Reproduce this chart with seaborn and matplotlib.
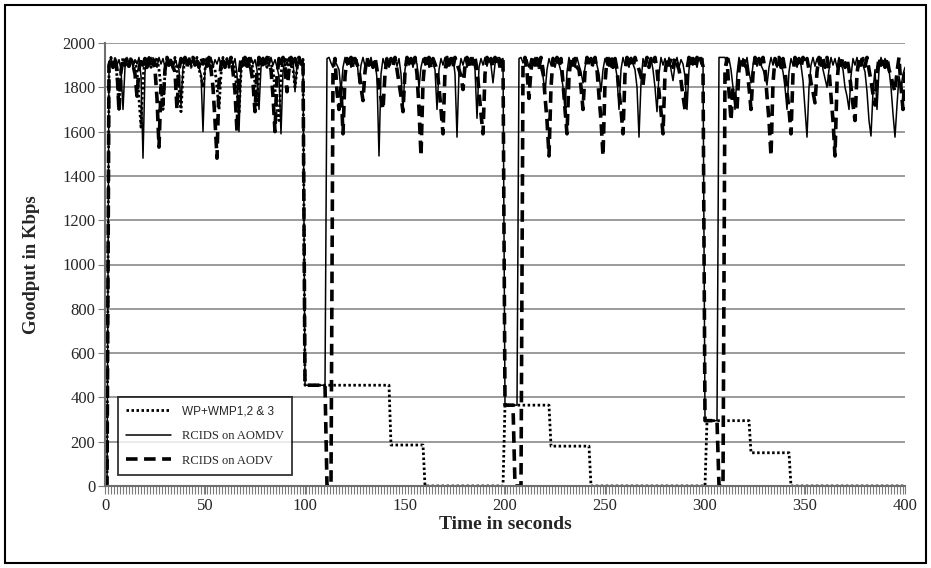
import matplotlib
matplotlib.use("Agg")
import matplotlib.pyplot as plt
import seaborn as sns
import pandas as pd
from matplotlib.patches import Rectangle
from matplotlib.ticker import MultipleLocator

# Time axis: one sample per second
seconds = list(range(0, 401))

# Goodput (Kbps) of RCIDS on AOMDV
aomdv = [
    0, 0, 1910, 1935, 1895, 1930, 1900, 1925, 1880, 1700,
    1890, 1935, 1900, 1930, 1890, 1925, 1905, 1935, 1850, 1480,
    1870, 1930, 1895, 1935, 1900, 1925, 1890, 1935, 1905, 1930,
    1890, 1935, 1900, 1925, 1885, 1930, 1900, 1880, 1720, 1890,
    1935, 1900, 1930, 1895, 1935, 1905, 1925, 1890, 1860, 1600,
    1880, 1930, 1900, 1935, 1890, 1925, 1905, 1935, 1895, 1930,
    1900, 1925, 1890, 1935, 1900, 1930, 1860, 1600, 1880, 1935,
    1900, 1930, 1890, 1935, 1905, 1925, 1880, 1700, 1890, 1935,
    1900, 1930, 1895, 1935, 1900, 1925, 1890, 1850, 1590, 1870,
    1930, 1900, 1935, 1890, 1925, 1780, 1900, 1935, 1905, 1930,
    455, 455, 455, 455, 455, 455, 455, 455, 455, 455,
    455, 1930, 1935, 1910, 1890, 1920, 1900, 1880, 1780, 1890,
    1935, 1900, 1930, 1890, 1935, 1905, 1925, 1820, 1900, 1935,
    1895, 1930, 1900, 1935, 1890, 1920, 1840, 1490, 1860, 1930,
    1900, 1935, 1890, 1925, 1905, 1935, 1895, 1930, 1860, 1700,
    1880, 1935, 1900, 1930, 1890, 1935, 1905, 1800, 1890, 1930,
    1900, 1935, 1890, 1925, 1905, 1880, 1700, 1880, 1930, 1900,
    1935, 1890, 1930, 1905, 1935, 1860, 1575, 1870, 1930, 1900,
    1935, 1890, 1925, 1900, 1935, 1880, 1660, 1890, 1930, 1900,
    1935, 1895, 1930, 1900, 1820, 1905, 1935, 1890, 1925, 1930,
    365, 365, 365, 365, 365, 365, 365, 1930, 1935, 1910,
    1935, 1925, 1890, 1930, 1900, 1935, 1895, 1925, 1880, 1850,
    1775, 1880, 1930, 1900, 1935, 1890, 1930, 1905, 1870, 1800,
    1700, 1870, 1935, 1900, 1930, 1890, 1935, 1900, 1870, 1820,
    1890, 1935, 1905, 1930, 1895, 1935, 1900, 1860, 1780, 1880,
    1930, 1900, 1935, 1890, 1925, 1905, 1850, 1700, 1880, 1935,
    1900, 1930, 1890, 1935, 1905, 1880, 1800, 1575, 1820, 1930,
    1900, 1935, 1890, 1930, 1880, 1800, 1690, 1860, 1935, 1900,
    1930, 1895, 1935, 1880, 1830, 1900, 1935, 1890, 1925, 1905,
    1850, 1700, 1880, 1935, 1900, 1930, 1890, 1935, 1905, 1930,
    295, 295, 295, 295, 295, 295, 295, 1935, 1935, 1935,
    1935, 1900, 1930, 1880, 1800, 1700, 1860, 1935, 1900, 1930,
    1890, 1935, 1870, 1820, 1900, 1935, 1895, 1930, 1900, 1880,
    1850, 1810, 1890, 1935, 1900, 1930, 1890, 1935, 1905, 1870,
    1800, 1700, 1870, 1930, 1900, 1935, 1890, 1925, 1900, 1830,
    1700, 1575, 1800, 1900, 1935, 1895, 1930, 1900, 1935, 1880,
    1840, 1800, 1880, 1935, 1900, 1930, 1890, 1935, 1905, 1880,
    1800, 1760, 1700, 1850, 1930, 1900, 1935, 1890, 1930, 1900,
    1870, 1780, 1650, 1580, 1780, 1880, 1700, 1880, 1935, 1900,
    1930, 1895, 1880, 1800, 1680, 1575, 1720, 1850, 1800, 1860,
    1890,
]

# Goodput (Kbps) of RCIDS on AODV
aodv = [
    0, 0, 1900, 1930, 1890, 1935, 1880, 1690, 1870, 1930,
    1900, 1935, 1895, 1925, 1900, 1860, 1760, 1880, 1935, 1900,
    1930, 1890, 1935, 1905, 1920, 1880, 1750, 1530, 1800, 1720,
    1880, 1935, 1900, 1930, 1890, 1870, 1700, 1880, 1930, 1900,
    1935, 1890, 1925, 1905, 1935, 1900, 1930, 1890, 1935, 1905,
    1930, 1895, 1935, 1880, 1800, 1650, 1480, 1820, 1900, 1935,
    1890, 1930, 1905, 1935, 1870, 1780, 1600, 1850, 1930, 1900,
    1935, 1895, 1930, 1880, 1820, 1690, 1870, 1935, 1900, 1930,
    1890, 1935, 1905, 1880, 1760, 1600, 1850, 1930, 1900, 1935,
    1890, 1780, 1880, 1935, 1900, 1930, 1895, 1935, 1905, 1930,
    455, 455, 455, 455, 455, 455, 455, 455, 455, 455,
    455, 0, 0, 0, 1880, 1930, 1780, 1700, 1800, 1590,
    1850, 1930, 1900, 1935, 1890, 1930, 1905, 1880, 1800, 1740,
    1870, 1935, 1900, 1930, 1890, 1935, 1880, 1800, 1750, 1700,
    1860, 1935, 1900, 1930, 1895, 1935, 1880, 1820, 1760, 1690,
    1870, 1935, 1900, 1930, 1890, 1935, 1860, 1700, 1490, 1820,
    1930, 1900, 1935, 1890, 1930, 1905, 1880, 1800, 1700, 1590,
    1870, 1935, 1900, 1930, 1890, 1935, 1905, 1880, 1850, 1790,
    1900, 1935, 1890, 1930, 1905, 1935, 1880, 1780, 1680, 1590,
    1860, 1935, 1900, 1930, 1890, 1935, 1905, 1930, 1895, 1930,
    365, 365, 365, 365, 365, 0, 0, 0, 0, 1900,
    1935, 1870, 1750, 1880, 1935, 1900, 1930, 1890, 1935, 1880,
    1760, 1650, 1490, 1800, 1930, 1900, 1935, 1890, 1930, 1820,
    1700, 1590, 1850, 1935, 1900, 1930, 1890, 1880, 1800, 1700,
    1870, 1935, 1900, 1930, 1890, 1935, 1880, 1760, 1650, 1490,
    1820, 1930, 1900, 1935, 1890, 1930, 1880, 1780, 1700, 1590,
    1860, 1935, 1900, 1930, 1890, 1935, 1905, 1880, 1850, 1810,
    1900, 1935, 1890, 1930, 1905, 1935, 1880, 1780, 1690, 1590,
    1860, 1935, 1900, 1930, 1890, 1935, 1905, 1880, 1830, 1760,
    1700, 1880, 1935, 1900, 1930, 1890, 1935, 1905, 1930, 1895,
    295, 295, 295, 295, 295, 295, 295, 0, 0, 0,
    1880, 1930, 1780, 1650, 1800, 1760, 1700, 1880, 1935, 1900,
    1930, 1880, 1800, 1700, 1860, 1935, 1900, 1930, 1890, 1935,
    1880, 1760, 1650, 1490, 1820, 1930, 1900, 1935, 1890, 1930,
    1880, 1780, 1700, 1590, 1860, 1935, 1900, 1930, 1890, 1935,
    1905, 1930, 1880, 1820, 1780, 1730, 1870, 1935, 1900, 1930,
    1890, 1935, 1880, 1760, 1650, 1490, 1820, 1930, 1900, 1935,
    1890, 1930, 1880, 1800, 1720, 1650, 1860, 1935, 1900, 1930,
    1895, 1935, 1880, 1830, 1770, 1720, 1860, 1935, 1900, 1930,
    1890, 1935, 1880, 1850, 1810, 1780, 1870, 1935, 1800, 1700,
    1880,
]

# Goodput (Kbps) of WP+WMP1,2 & 3: normal traffic, then stepped losses
wp_wmp = (
    [0, 0, 1900, 1935, 1890, 1930, 1850, 1700, 1880, 1935,
     1900, 1930, 1890, 1935, 1905, 1925, 1870, 1750, 1620, 1840,
     1930, 1900, 1935, 1890, 1930, 1905, 1935, 1880, 1800, 1700,
     1870, 1935, 1900, 1930, 1890, 1935, 1880, 1790, 1690, 1860,
     1930, 1900, 1935, 1890, 1930, 1905, 1935, 1880, 1850, 1800,
     1880, 1935, 1900, 1930, 1890, 1880, 1800, 1700, 1860, 1935,
     1900, 1930, 1890, 1935, 1905, 1880, 1780, 1680, 1870, 1930,
     1900, 1935, 1890, 1930, 1880, 1820, 1720, 1870, 1935, 1900,
     1930, 1890, 1935, 1905, 1880, 1790, 1700, 1650, 1860, 1930,
     1900, 1935, 1890, 1930, 1880, 1800, 1880, 1935, 1905, 1930]
    + [455] * 43   # 100-142 s
    + [185] * 17   # 143-159 s
    + [0] * 40     # 160-199 s
    + [365] * 23   # 200-222 s
    + [180] * 20   # 223-242 s
    + [0] * 58     # 243-300 s
    + [295] * 22   # 301-322 s
    + [150] * 20   # 323-342 s
    + [0] * 58     # 343-400 s
)

series_labels = ["WP+WMP1,2 & 3", "RCIDS on AOMDV", "RCIDS on AODV"]
y_ticks = list(range(0, 2001, 200))
x_ticks = list(range(0, 401, 50))

df = pd.DataFrame({"t": seconds, "wp": wp_wmp, "aomdv": aomdv, "aodv": aodv})

sns.set_style("white")
plt.rcParams["font.family"] = ["Liberation Serif", "DejaVu Serif"]

fig = plt.figure(figsize=(9.31, 5.68), dpi=100)
ax = fig.add_axes([105 / 931, 82 / 568, 800 / 931, 443 / 568])

sns.lineplot(data=df, x="t", y="wp", ax=ax, color="black", lw=2.0,
             linestyle=(0, (0.9, 0.9)), label=series_labels[0],
             estimator=None, sort=False, zorder=1.9)
sns.lineplot(data=df, x="t", y="aomdv", ax=ax, color="black", lw=1.1,
             linestyle="-", label=series_labels[1],
             estimator=None, sort=False, zorder=2)
sns.lineplot(data=df, x="t", y="aodv", ax=ax, color="black", lw=2.6,
             linestyle=(0, (3.2, 1.8)), label=series_labels[2],
             estimator=None, sort=False, zorder=2.1)

ax.set_xlim(0, 400)
ax.set_ylim(0, 2000)
ax.set_yticks(y_ticks)
ax.set_xticks(x_ticks)
ax.xaxis.set_minor_locator(MultipleLocator(1.5))
ax.set_axisbelow(True)
ax.yaxis.grid(True, color="#8a8a8a", lw=1.2)
ax.xaxis.grid(False)

for side in ("top", "right"):
    ax.spines[side].set_visible(False)
for side in ("left", "bottom"):
    ax.spines[side].set_color("#6e6e6e")
    ax.spines[side].set_linewidth(1.5)
    ax.spines[side].set_zorder(3)

ax.tick_params(axis="y", which="major", direction="out", length=5,
               color="#7a7a7a", labelsize=12, pad=2, left=True)
ax.tick_params(axis="x", which="major", direction="out", length=6,
               color="#7a7a7a", labelsize=12, pad=3, bottom=True)
ax.tick_params(axis="x", which="minor", direction="out", length=6,
               color="#7a7a7a", width=0.8, bottom=True)

ax.set_xlabel("Time in seconds", fontsize=14, fontweight="bold", labelpad=1)
ax.set_ylabel("Goodput in Kbps", fontsize=13.5, fontweight="bold", labelpad=16)

leg = ax.legend(loc="lower left", bbox_to_anchor=(0.016, 0.025),
                borderaxespad=0, frameon=True, fancybox=False, fontsize=9,
                handlelength=3.6, handletextpad=0.9, labelspacing=1.0,
                borderpad=0.66)
leg.get_frame().set_edgecolor("black")
leg.get_frame().set_linewidth(1.3)
leg.get_texts()[0].set_family(["Liberation Sans", "DejaVu Sans"])
leg.get_texts()[0].set_fontsize(8.5)

# Outer frame around the whole figure
fig.patches.append(Rectangle((5 / 931, 5 / 568), 921 / 931, 558 / 568,
                             transform=fig.transFigure, fill=False,
                             edgecolor="black", lw=1.5))

fig.savefig("out.png", dpi=100)
